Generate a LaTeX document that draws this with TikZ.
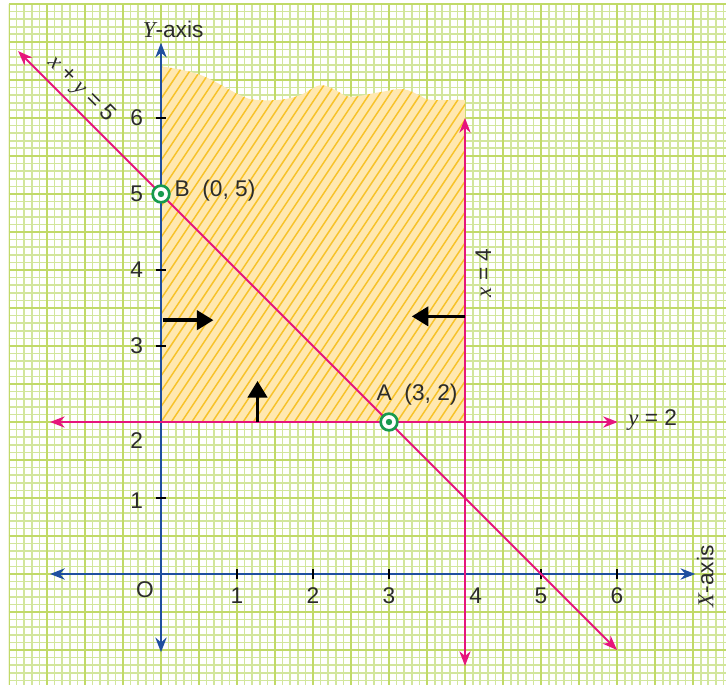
\documentclass[tikz,border=0pt]{standalone}
\usepackage{fontspec}
\setmainfont{Liberation Sans}
\newfontfamily\seriffont{Liberation Serif}
\newcommand\varit[1]{{\seriffont\itshape #1}}
\usetikzlibrary{arrows.meta}
\definecolor{gridfine}{HTML}{D2E69C}
\definecolor{gridmed}{HTML}{C1DA68}
\definecolor{fillor}{HTML}{FFE8B0}
\definecolor{hatchcol}{HTML}{F7C22A}
\definecolor{magline}{HTML}{E6157C}
\definecolor{axisblue}{HTML}{1F4F9F}
\definecolor{ptgreen}{HTML}{179A4E}
\definecolor{txt}{HTML}{2B2B2B}
\tikzset{
  finegrid/.style={draw=gridfine, line width=0.65pt},
  medgrid/.style={draw=gridmed, line width=1.1pt},
  hatchline/.style={draw=hatchcol, line width=0.55pt},
  axisline/.style={draw=axisblue, line width=0.95pt, {Stealth[length=5.5pt,width=4.2pt]}-{Stealth[length=5.5pt,width=4.2pt]}},
  magenta line/.style={draw=magline, line width=0.75pt, {Stealth[length=5.5pt,width=4.2pt]}-{Stealth[length=5.5pt,width=4.2pt]}},
  dirarrow/.style={draw=black, line width=1.3pt, -{Triangle[length=6.2pt,width=7.2pt]}},
  tickmark/.style={draw=black, line width=0.9pt},
  lbl/.style={text=txt, inner sep=0pt, font=\fontsize{8.5}{10}\selectfont},
  ptmark/.style={circle, draw=ptgreen, line width=1pt, fill=white, minimum size=0.22cm, inner sep=0pt},
}
\newcommand\regionpath{(0,2) -- plot[smooth, tension=0.6] coordinates {(0,6.68) (0.51,6.57) (1.04,6.30) (1.24,6.24) (1.57,6.24) (1.83,6.30) (2.09,6.43) (2.29,6.37) (2.49,6.28) (2.88,6.34) (3.18,6.38) (3.4,6.30) (3.54,6.24) (4,6.24)} -- (4,2) -- cycle}
\begin{document}
\begin{tikzpicture}[x=1cm,y=1cm]
\useasboundingbox (-2.1184,-1.4474) rectangle (7.4342,7.5526);
\fill[white] (-2.1184,-1.4474) rectangle (7.4342,7.5526);
% graph paper
\begin{scope}
\clip (-2,-1.5) rectangle (7.5,7.5);
\foreach \i in {0,...,95} \draw[finegrid] ({-2+\i*0.1},-1.5) -- ({-2+\i*0.1},7.5);
\foreach \j in {0,...,90} \draw[finegrid] (-2,{-1.5+\j*0.1}) -- (7.5,{-1.5+\j*0.1});
\foreach \i in {0,...,19} \draw[medgrid] ({-2+\i*0.5},-1.5) -- ({-2+\i*0.5},7.5);
\foreach \j in {0,...,18} \draw[medgrid] (-2,{-1.5+\j*0.5}) -- (7.5,{-1.5+\j*0.5});
\end{scope}
% feasible region
\fill[fillor] \regionpath;
\begin{scope}
\clip \regionpath;
\foreach \k in {-40,...,32} \draw[hatchline] ({\k*0.135},2) -- ++(4,6);
\end{scope}
% coordinates
\coordinate (O) at (0,0);
\coordinate (xl) at (-1.46,0);
\coordinate (xr) at (7.03,0);
\coordinate (yb) at (0,-1.03);
\coordinate (yt) at (0,6.99);
\coordinate (l1s) at (-1.88,6.88);
\coordinate (l1e) at (6.0,-1.0);
\coordinate (l2s) at (-1.46,2);
\coordinate (l2e) at (6.01,2);
\coordinate (l3s) at (4,6.0);
\coordinate (l3e) at (4,-1.21);
% axes
\draw[axisline] (xl) -- (xr);
\draw[axisline] (yb) -- (yt);
\foreach \v in {1,...,6} {
  \draw[tickmark] (\v,-0.07) -- (\v,0.07);
  \draw[tickmark] (-0.07,\v) -- (0.07,\v);
}
% constraint lines
\draw[magenta line] (l1s) -- (l1e);
\draw[magenta line] (l2s) -- (l2e);
\draw[magenta line] (l3s) -- (l3e);
% direction arrows
\coordinate (a1s) at (0.02,3.34); \coordinate (a1e) at (0.69,3.34);
\coordinate (a2s) at (4,3.39);    \coordinate (a2e) at (3.30,3.39);
\coordinate (a3s) at (1.27,2.0);  \coordinate (a3e) at (1.27,2.54);
\draw[dirarrow] (a1s) -- (a1e);
\draw[dirarrow] (a2s) -- (a2e);
\draw[dirarrow] (a3s) -- (a3e);
% points
\node[ptmark] (B) at (0,5) {};
\fill[ptgreen] (B) circle (0.042);
\node[ptmark] (A) at (3,2) {};
\fill[ptgreen] (A) circle (0.042);
% labels
\node[lbl] (lB) at (0.71,5.05) {B\ \ (0, 5)};
\node[lbl] (lA) at (3.37,2.36) {A\ \ (3, 2)};
\node[lbl] (ylab) at (0.16,7.16) {\varit{Y}-axis};
\node[lbl, rotate=90] (xlab) at (7.16,-0.03) {\varit{X}-axis};
\node[lbl, rotate=-45] (l1lab) at (-1.05,6.38) {\varit{x} + \varit{y} = 5};
\node[lbl, rotate=90] (l3lab) at (4.24,3.96) {\varit{x} = 4};
\node[lbl] (l2lab) at (6.47,2.03) {\varit{y} = 2};
\node[lbl] (olab) at (-0.21,-0.21) {O};
\foreach \v in {1,2,3,5,6} \node[lbl] at (\v,-0.29) {\v};
\node[lbl] at (4.14,-0.29) {4};
\node[lbl] at (-0.32,0.97) {1};
\node[lbl] at (-0.32,1.76) {2};
\foreach \v in {3,4,5,6} \node[lbl] at (-0.32,\v) {\v};
\end{tikzpicture}
\end{document}
